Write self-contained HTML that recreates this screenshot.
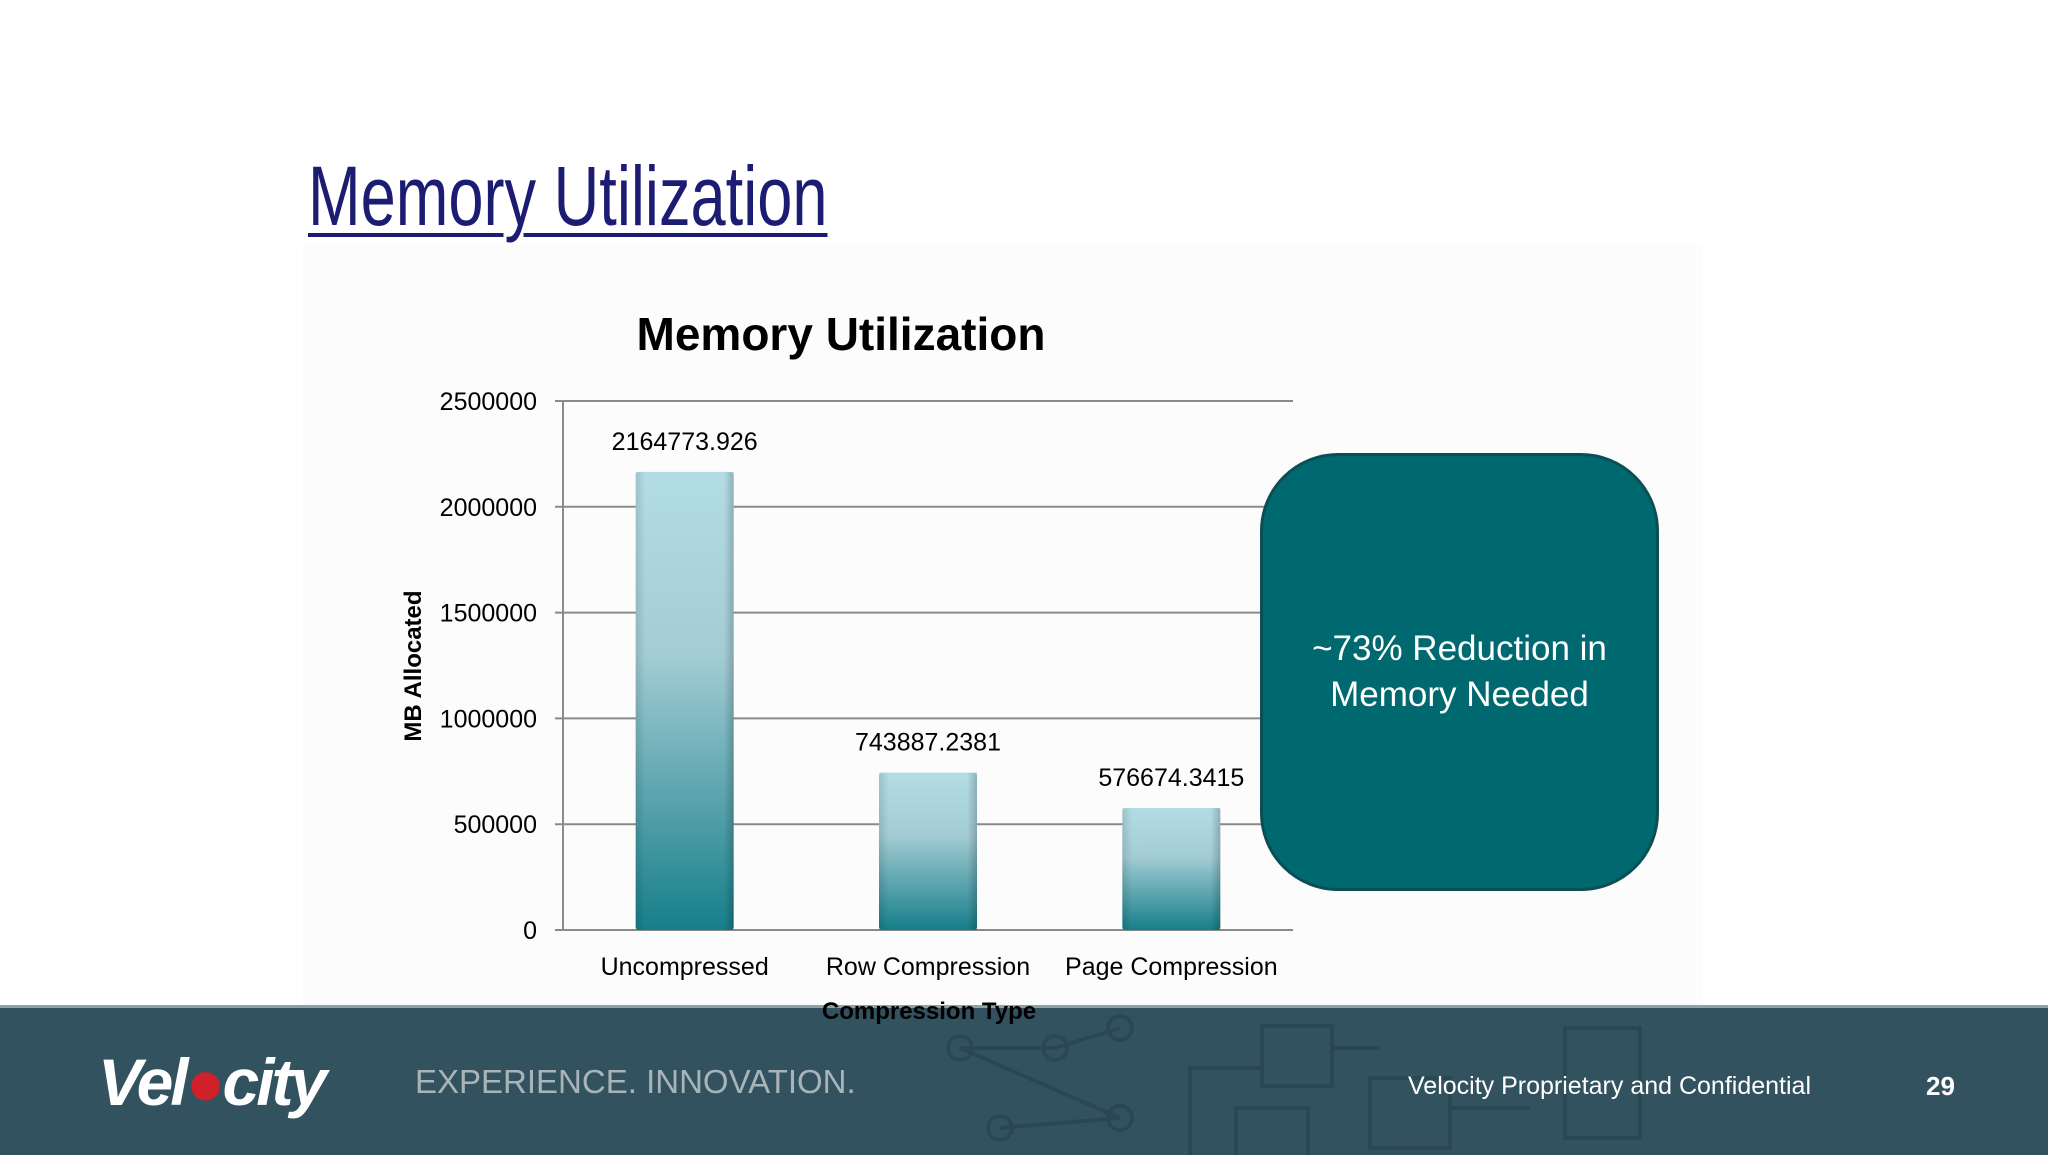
<!DOCTYPE html>
<html><head><meta charset="utf-8">
<style>
html,body{margin:0;padding:0;width:2048px;height:1152px;overflow:hidden;background:#fff;font-family:"Liberation Sans",sans-serif;}
#title{position:absolute;left:308px;top:148px;font-size:84px;color:#1c1c72;text-decoration:underline;text-decoration-thickness:4px;text-underline-offset:8px;transform:scaleX(0.752);transform-origin:left top;white-space:nowrap;}
#chartbg{position:absolute;left:303px;top:245px;width:1400px;height:760px;background:#fcfcfc;}
#footer{position:absolute;left:0;top:1005px;width:2048px;height:147px;background:#33525f;border-top:3px solid #8fa2aa;}
#callout{position:absolute;left:1260px;top:453px;width:393px;height:432px;border-radius:78px;background:#006970;border:3px solid #0b4e56;color:#fff;font-size:35px;display:flex;align-items:center;justify-content:center;text-align:center;line-height:46px;}
</style></head><body>
<div id="chartbg"></div>
<div id="title">Memory Utilization</div>
<svg id="chart" width="2048" height="1152" style="position:absolute;left:0;top:0">
</svg>
<div id="callout">~73% Reduction in<br>Memory Needed</div>
<div id="footer">
<svg width="2048" height="147" style="position:absolute;left:0;top:0">
<g stroke="#24404b" stroke-width="4" fill="none" opacity="0.55">
<circle cx="960" cy="40" r="12"/><circle cx="1055" cy="40" r="12"/><circle cx="1120" cy="20" r="12"/><circle cx="1000" cy="120" r="12"/><circle cx="1120" cy="110" r="12"/>
<line x1="960" y1="40" x2="1055" y2="40"/><line x1="960" y1="40" x2="1120" y2="110"/><line x1="1055" y1="40" x2="1120" y2="20"/><line x1="1000" y1="120" x2="1120" y2="110"/>
<rect x="1262" y="18" width="70" height="60"/><rect x="1236" y="100" width="72" height="50"/><rect x="1370" y="70" width="80" height="70"/><rect x="1565" y="20" width="75" height="110"/>
<path d="M1190 150 V60 H1262"/><path d="M1332 40 H1380"/><path d="M1450 100 H1530"/>
</g></svg>
<div style="position:absolute;left:98px;top:36px;font-size:66px;font-weight:bold;font-style:italic;color:#fff;letter-spacing:-3px">Vel<span style="color:#d0202a">●</span>city</div>
<div style="position:absolute;left:415px;top:55px;font-size:33px;color:#a9b4b9">EXPERIENCE. INNOVATION.</div>
<div style="position:absolute;left:1408px;top:64px;font-size:25px;color:#fff">Velocity Proprietary and Confidential</div>
<div style="position:absolute;left:1926px;top:63px;font-size:26px;font-weight:bold;color:#fff">29</div>
</div>
<svg id="overlay" width="2048" height="1152" style="position:absolute;left:0;top:0"></svg>
<script>
const categories=["Uncompressed","Row Compression","Page Compression"];
const values=[2164773.926,743887.2381,576674.3415];
const valueLabels=["2164773.926","743887.2381","576674.3415"];
const yTicks=[0,500000,1000000,1500000,2000000,2500000];
const NS="http://www.w3.org/2000/svg";
const svg=document.getElementById('chart');
const X0=563,X1=1293,Y0=930,Y1=401,YMAX=2500000;
const band=(X1-X0)/categories.length;
function y(v){return Y0-(v/YMAX)*(Y0-Y1);}
function xc(i){return X0+band*(i+0.5);}
function mk(tag,attrs,p){const e=document.createElementNS(NS,tag);for(const k in attrs)e.setAttribute(k,attrs[k]);(p||svg).appendChild(e);return e;}
const defs=mk('defs',{});
const g=mk('linearGradient',{id:'bg',x1:0,y1:0,x2:0,y2:1},defs);
mk('stop',{offset:'0','stop-color':'#b3dde5'},g);mk('stop',{offset:'0.4','stop-color':'#a3ccd4'},g);mk('stop',{offset:'1','stop-color':'#167f8a'},g);
const gs=mk('linearGradient',{id:'bs',x1:0,y1:0,x2:1,y2:0},defs);
mk('stop',{offset:'0','stop-color':'#000','stop-opacity':'0.12'},gs);mk('stop',{offset:'0.1','stop-color':'#000','stop-opacity':'0'},gs);mk('stop',{offset:'0.9','stop-color':'#000','stop-opacity':'0'},gs);mk('stop',{offset:'1','stop-color':'#000','stop-opacity':'0.2'},gs);
const t=mk('text',{x:841,y:350,'text-anchor':'middle','font-size':46,'font-weight':'bold',fill:'#000'});t.textContent='Memory Utilization';

yTicks.forEach(v=>{
 const l=mk('line',{x1:X0-8,x2:X1,y1:y(v),y2:y(v),stroke:'#8a8a8a','stroke-width':2});
 
 const tx=mk('text',{x:537,y:y(v)+9,'text-anchor':'end','font-size':25,fill:'#000'});tx.textContent=v;
 
});
const ax=mk('line',{x1:X0,x2:X0,y1:Y1,y2:Y0,stroke:'#8a8a8a','stroke-width':2});

const bw=98;
categories.forEach((c,i)=>{
 const r=mk('rect',{x:xc(i)-bw/2,y:y(values[i]),width:bw,height:Y0-y(values[i]),fill:'url(#bg)',rx:3});
 
 const s=mk('rect',{x:xc(i)-bw/2,y:y(values[i]),width:bw,height:Y0-y(values[i]),fill:'url(#bs)'});
 
 const vl=mk('text',{x:xc(i),y:y(values[i])-22,'text-anchor':'middle','font-size':25,fill:'#000'});vl.textContent=valueLabels[i];
 
 const cl=mk('text',{x:xc(i),y:975,'text-anchor':'middle','font-size':25,fill:'#000'});cl.textContent=c;
 
});
const yt=mk('text',{x:0,y:0,'text-anchor':'middle','font-size':24,'font-weight':'bold',fill:'#000',transform:'translate(421,666) rotate(-90)'});yt.textContent='MB Allocated';

const ov=document.getElementById('overlay');
const xt=mk('text',{x:929,y:1019,'text-anchor':'middle','font-size':24,'font-weight':'bold',fill:'#000'},ov);xt.textContent='Compression Type';

</script>
</body></html>
